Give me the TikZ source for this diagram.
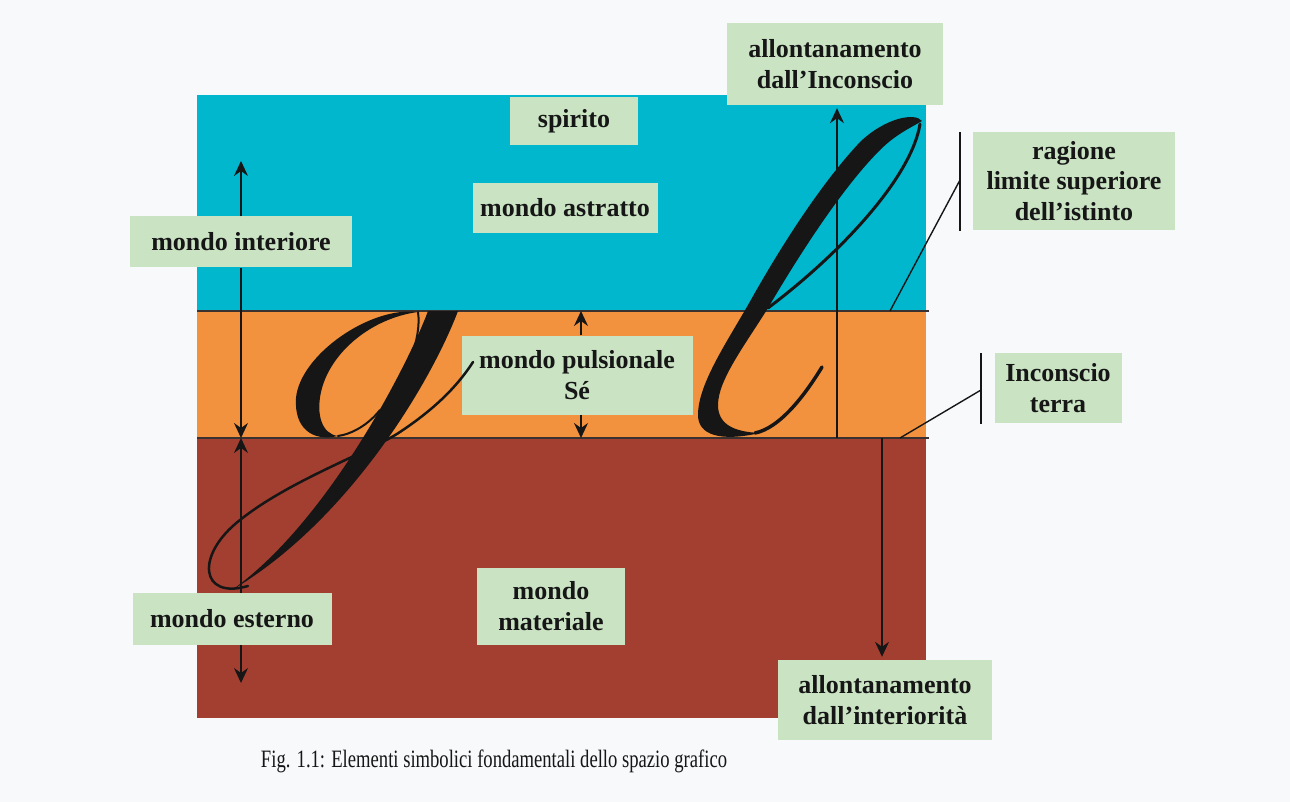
\documentclass[tikz,border=0pt]{standalone}
\usepackage{fontspec}
\setmainfont{Liberation Serif}
\usetikzlibrary{arrows.meta}

\definecolor{paper}{RGB}{247,249,250}
\definecolor{sky}{RGB}{0,183,206}
\definecolor{drive}{RGB}{242,146,62}
\definecolor{earth}{RGB}{163,63,49}
\definecolor{mint}{RGB}{201,227,195}
\definecolor{ink}{RGB}{22,22,22}
\definecolor{rule}{RGB}{58,50,48}

\tikzset{
  lbl/.style = {fill=mint, text=ink, align=center, inner sep=0pt,
                font=\fontsize{26}{30.5}\selectfont\bfseries},
  guide/.style = {draw=ink, line width=1.4pt},
  arr/.style = {guide, -{Stealth[length=15pt,width=14pt,inset=5pt]}},
  bandline/.style = {draw=rule, line width=2pt},
  pen/.style = {draw=ink, line width=#1, line cap=round},
  pen/.default = 2.5pt
}

\begin{document}
\begin{tikzpicture}[x=1pt,y=-1pt]
	\def \xl{197}
	\def \xr{926}
	\def \ytop{95}
	\def \ymid{311}
	\def \ylow{438}
	\def \ybot{718}

	\useasboundingbox (0,0) rectangle (1290,802);
	\fill[paper] (0,0) rectangle (1290,802);

	% Bands
	\fill[sky]   (\xl,\ytop) rectangle (\xr,\ymid);
	\fill[drive] (\xl,\ymid) rectangle (\xr,\ylow);
	\fill[earth] (\xl,\ylow) rectangle (\xr,\ybot);
	\draw[bandline] (\xl,\ymid) -- (929,\ymid);
	\draw[bandline] (\xl,\ylow) -- (929,\ylow);

	% Labels
	\node[lbl, minimum width=128pt, minimum height=48pt] (sp) at (574,121) {spirito};
	\node[lbl, minimum width=185pt, minimum height=50pt] (ma) at (565,208) {mondo astratto};
	\node[lbl, minimum width=222pt, minimum height=51pt] (mi) at (241,242) {mondo interiore};
	\node[lbl, minimum width=231pt, minimum height=79pt] (ps) at (577,375) {mondo pulsionale\\Sé};
	\node[lbl, minimum width=199pt, minimum height=52pt] (me) at (232,619) {mondo esterno};
	\node[lbl, minimum width=148pt, minimum height=77pt] (mm) at (551,606) {mondo\\materiale};
	\node[lbl, minimum width=214pt, minimum height=80pt] (ae) at (885,700) {allontanamento\\dall'interiorità};
	\node[lbl, minimum width=216pt, minimum height=82pt] (ai) at (835,64) {allontanamento\\dall'Inconscio};
	\node[lbl, minimum width=202pt, minimum height=98pt] (rg) at (1074,181) {ragione\\limite superiore\\dell'istinto};
	\node[lbl, minimum width=127pt, minimum height=70pt] (it) at (1058,388) {Inconscio\\terra};

	% Letter g
	\draw[pen] (248,586) .. controls (200,600) and (195,555) .. (240,520)
		.. controls (290,480) and (370,452) .. (400,432)
		.. controls (430,412) and (455,390) .. (473,362);
	\fill[ink] (418,312) .. controls (370,306) and (300,355) .. (296,398)
		.. controls (294,428) and (312,442) .. (338,436)
		.. controls (322,434) and (316,415) .. (321,392)
		.. controls (330,352) and (372,318) .. (418,312) -- cycle;
	\draw[pen=2pt] (338,436) .. controls (352,434) and (368,425) .. (380,410);
	\draw[pen=2pt] (418,312) .. controls (422,340) and (405,375) .. (388,405);
	\fill[ink] (428,311) .. controls (410,360) and (330,520) .. (232,590)
		.. controls (350,520) and (432,380) .. (458,311) -- cycle;

	% Letter l
	\draw[pen=3pt] (920,124) .. controls (912,175) and (845,250) .. (768,308);
	\draw[pen=3.5pt] (755,433) .. controls (780,428) and (805,395) .. (822,367);
	\fill[ink] (922,121) .. controls (915,112) and (885,118) .. (860,142)
		.. controls (815,190) and (772,262) .. (748,305)
		.. controls (725,345) and (698,385) .. (698,415)
		.. controls (698,435) and (720,442) .. (760,433)
		.. controls (735,432) and (718,425) .. (718,405)
		.. controls (718,380) and (745,345) .. (768,308)
		.. controls (795,262) and (840,190) .. (880,150)
		.. controls (895,135) and (910,128) .. (922,121) -- cycle;

	% Arrows
	\coordinate (inTop) at (241,161);
	\coordinate (inBot) at (241,\ylow);
	\coordinate (exBot) at (241,683);
	\draw[arr] (inTop |- mi.north) -- (inTop);
	\draw[arr] (inTop |- mi.south) -- (inBot);
	\draw[arr] (inTop |- me.north) -- (inBot);
	\draw[arr] (inTop |- me.south) -- (exBot);

	\coordinate (psTop) at (581,\ymid);
	\coordinate (psBot) at (581,\ylow);
	\draw[arr] (psTop |- ps.north) -- (psTop);
	\draw[arr] (psTop |- ps.south) -- (psBot);

	\coordinate (aiFoot) at (837,\ylow);
	\draw[arr, shorten >=3pt] (aiFoot) -- (aiFoot |- ai.south);
	\coordinate (aeFoot) at (882,\ylow);
	\draw[arr, shorten >=3pt] (aeFoot) -- (aeFoot |- ae.north);

	% Leaders
	\coordinate (rgA) at (960,132);
	\coordinate (rgB) at (960,231);
	\coordinate (rgM) at (960,180);
	\coordinate (rgF) at (890,\ymid);
	\draw[guide] (rgA) -- (rgB);
	\draw[guide] (rgM) -- (rgF);

	\coordinate (itA) at (981,353);
	\coordinate (itB) at (981,424);
	\coordinate (itM) at (981,390);
	\coordinate (itF) at (900,\ylow);
	\draw[guide] (itA) -- (itB);
	\draw[guide] (itM) -- (itF);

	% Caption
	\node[text=ink, font=\fontsize{25}{29}\selectfont] (cap) at (494,761)
		{\scalebox{0.745}[1]{Fig. 1.1: Elementi simbolici fondamentali dello spazio grafico}};
\end{tikzpicture}
\end{document}
